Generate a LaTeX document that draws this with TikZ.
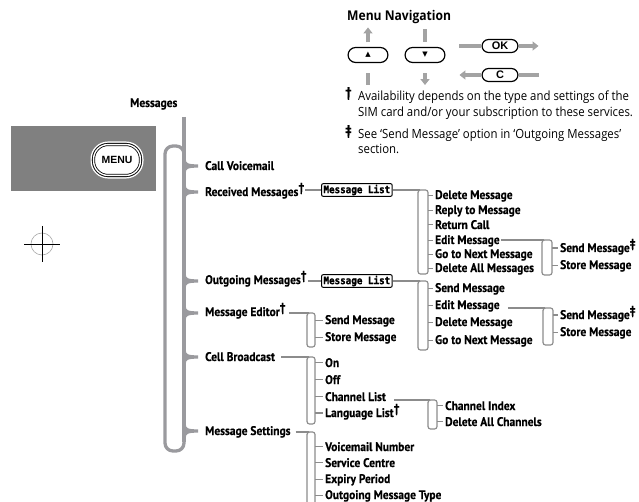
\documentclass[tikz,border=0pt]{standalone}
\usepackage{fontspec}
\setmainfont{Open Sans}
\newfontfamily\lblfont[FakeStretch=0.92,FakeBold=0.4]{PT Sans}
\newfontfamily\notefont[FakeStretch=0.9]{Open Sans}
\newfontfamily\lcdfont[FakeStretch=0.9,FakeBold=1.6]{DejaVu Sans Mono}
\newfontfamily\symfont{DejaVu Sans}
\newfontfamily\btnfont{Liberation Sans}
\usetikzlibrary{arrows.meta}
\definecolor{bgray}{HTML}{9A9A9E}
\definecolor{lgray}{HTML}{8C8C8C}
\definecolor{boxgray}{HTML}{808080}
\definecolor{agray}{HTML}{A3A3A3}
\newcommand\mydag{\raisebox{4.5pt}{†}}
\newcommand\myddag{\raisebox{4.5pt}{‡}}
\begin{document}
\begin{tikzpicture}[x=1bp,y=-1bp,
  lbl/.style={font=\lblfont\bfseries\fontsize{12.5}{14}\selectfont, anchor=base west, inner sep=0pt},
  note/.style={font=\notefont\fontsize{12.7}{14}\selectfont, anchor=base west, inner sep=0pt},
  lcd/.style={draw=black, line width=1pt, rounded corners=2, anchor=west, minimum width=71, minimum height=13, inner sep=1pt, font=\lcdfont\bfseries\fontsize{10.3}{11}\selectfont},
  gline/.style={draw=lgray, line width=1.2pt},
  brk/.style={draw=lgray, line width=1.2pt, rounded corners=2.5},
  brace/.style={draw=bgray, line width=3.3pt},
  btn/.style={draw=black, line width=1.2pt, inner sep=0pt},
  navbar/.style={draw=agray, line width=3.5pt},
  navar/.style={draw=agray, line width=3.5pt, -{Triangle[width=9pt,length=6pt]}},
]
\useasboundingbox (0,0) rectangle (639,502);

% ---------- MENU key and crosshair ----------
\fill[boxgray] (11,126) rectangle (156,191);
\node[draw=white, line width=1.2pt, rounded corners=17, minimum width=52, minimum height=36, inner sep=0pt] (menuring) at (117,160) {};
\node[draw=black, double=white, double distance=1.4pt, line width=0.8pt, fill=white, rounded corners=14.5, minimum width=47, minimum height=31, inner sep=0pt, font=\btnfont\bfseries\fontsize{10.5}{11}\selectfont] (menu) at (117,160) {MENU};
\draw[gray!70, line width=0.6pt] (42,244) circle (11);
\coordinate (chl) at (24,244); \coordinate (chr) at (60,244);
\coordinate (cht) at (42,226); \coordinate (chb) at (42,262);
\draw[black, line width=0.6pt] (chl) -- (chr) (cht) -- (chb);

% ---------- Menu navigation ----------
\node[font=\notefont\bfseries\fontsize{13.5}{15}\selectfont, anchor=base west, inner sep=0pt] (navt) at (347,21) {Menu Navigation};
\node[btn, rounded corners=7.5, minimum width=40, minimum height=15, font=\symfont\fontsize{7}{7}\selectfont] (up) at (368,55) {▲};
\node[btn, rounded corners=7.5, minimum width=40, minimum height=15, font=\symfont\fontsize{7}{7}\selectfont] (dn) at (425,55) {▼};
\node[btn, rounded corners=6.5, minimum width=36, minimum height=13, font=\btnfont\bfseries\fontsize{11}{11}\selectfont] (ok) at (500,46) {OK};
\node[btn, rounded corners=6.5, minimum width=36, minimum height=13, font=\btnfont\bfseries\fontsize{11}{11}\selectfont] (cc) at (500,75) {C};
\draw[navar] ([yshift=4.5pt]up.north) -- ++(0,-15);
\draw[navbar] ([yshift=-10pt]up.south) -- ++(0,12);
\draw[navbar] ([yshift=5pt]dn.north) -- ++(0,-13);
\draw[navar] ([yshift=-10pt]dn.south) -- ++(0,12);
\draw[navbar] (ok.west) -- ++(-22,0);
\draw[navar] (ok.east) -- ++(20,0);
\draw[navar] (cc.west) -- ++(-22,0);
\draw[navbar] (cc.east) -- ++(20,0);

% ---------- footnotes ----------
\node[lbl, font=\lblfont\bfseries\fontsize{14}{15}\selectfont] (fd1) at (345,97) {†};
\node[note] (fn1) at (358,101) {Availability depends on the type and settings of the};
\node[note] (fn2) at (358,117) {SIM card and/or your subscription to these services.};
\node[lbl, font=\lblfont\bfseries\fontsize{14}{15}\selectfont] (fd2) at (345,135) {‡};
\node[note] (fn3) at (358,139) {See ‘Send Message’ option in ‘Outgoing Messages’};
\node[note] (fn4) at (358,154) {section.};

% ---------- main list ----------
\node[lbl] (msgs) at (130,107) {Messages};
\node[lbl] (cv) at (205,170) {Call Voicemail};
\node[lbl] (rm) at (205,196) {Received Messages\mydag};
\node[lbl] (om) at (205,284) {Outgoing Messages\mydag};
\node[lbl] (me) at (205,316) {Message Editor\mydag};
\node[lbl] (cb) at (205,361) {Cell Broadcast};
\node[lbl] (ms) at (205,435) {Message Settings};

% main brace and loop
\coordinate (btop) at (184,117);
\coordinate (bbot) at (184,442);
\draw[brace] (btop) -- (bbot);
\foreach \t in {166,192,281,313,357,431}
  \draw[brace] (184,\t-7) .. controls (184,\t-1) and (188,\t) .. (198,\t) .. controls (188,\t) and (184,\t+1) .. (184,\t+7);
\draw[brace, rounded corners=8] (bbot) -- (184,451) -- (165,451) -- (165,146) -- (184,146) -- (184,156);

% ---------- Received Messages ----------
\node[lcd] (ml1) at (321,190) {Message List};
\draw[gline] ([xshift=1pt]rm.east |- ml1.west) -- (ml1.west);
\draw[brk] (418,190) rectangle (428,274);
\coordinate (r1) at (428,190);
\draw[gline] (ml1.east) -- (420,190);
\node[lbl] (r1a) at (435,199) {Delete Message};
\node[lbl] (r1b) at (435,214) {Reply to Message};
\node[lbl] (r1c) at (435,229) {Return Call};
\node[lbl] (r1d) at (435,244) {Edit Message};
\node[lbl] (r1e) at (435,258) {Go to Next Message};
\node[lbl] (r1f) at (435,272) {Delete All Messages};
\foreach \n in {r1a,r1b,r1c,r1d,r1e,r1f}
  \draw[gline] (\n.west -| r1) -- ([xshift=-2pt]\n.west);
% edit sub
\draw[brk] (542,240) rectangle (552,275);
\coordinate (r2) at (552,240);
\draw[gline] ([xshift=1pt]r1d.east |- 0,240) -- (544,240);
\node[lbl] (r2a) at (560,252) {Send Message\myddag};
\node[lbl] (r2b) at (560,269) {Store Message};
\draw[gline] (r2 |- 0,248) -- ([xshift=-2pt]r2a.west |- 0,248);
\draw[gline] (r2b.west -| r2) -- ([xshift=-2pt]r2b.west);

% ---------- Outgoing Messages ----------
\node[lcd] (ml2) at (321,281) {Message List};
\draw[gline] ([xshift=1pt]om.east |- ml2.west) -- (ml2.west);
\draw[brk] (418,281) rectangle (428,350);
\coordinate (o1) at (428,281);
\draw[gline] (ml2.east) -- (420,281);
\node[lbl] (o1a) at (435,292) {Send Message};
\node[lbl] (o1b) at (435,309) {Edit Message};
\node[lbl] (o1c) at (435,326) {Delete Message};
\node[lbl] (o1d) at (435,344) {Go to Next Message};
\foreach \n in {o1a,o1b,o1c,o1d}
  \draw[gline] (\n.west -| o1) -- ([xshift=-2pt]\n.west);
\draw[brk] (543,308) rectangle (553,345);
\coordinate (o2) at (553,308);
\draw[gline] ([xshift=8pt]o1b.east |- 0,308) -- (545,308);
\node[lbl] (o2a) at (560,319) {Send Message\myddag};
\node[lbl] (o2b) at (560,336) {Store Message};
\draw[gline] (o2 |- 0,315) -- ([xshift=-2pt]o2a.west |- 0,315);
\draw[gline] (o2b.west -| o2) -- ([xshift=-2pt]o2b.west);

% ---------- Message Editor ----------
\draw[brk] (307,313) rectangle (315,347);
\coordinate (e1) at (315,313);
\draw[gline] ([xshift=3pt]me.east |- 0,313) -- (309,313);
\node[lbl] (e1a) at (325,324) {Send Message};
\node[lbl] (e1b) at (325,341) {Store Message};
\foreach \n in {e1a,e1b}
  \draw[gline] (\n.west -| e1) -- ([xshift=-2pt]\n.west);

% ---------- Cell Broadcast ----------
\draw[brk] (307,357) rectangle (315,424);
\coordinate (c1) at (315,357);
\draw[gline] ([xshift=6pt]cb.east |- 0,357) -- (309,357);
\node[lbl] (c1a) at (325,367) {On};
\node[lbl] (c1b) at (325,384) {Off};
\node[lbl] (c1c) at (325,401) {Channel List};
\node[lbl] (c1d) at (325,417) {Language List\mydag};
\draw[gline] (c1a.west -| c1) -- ([xshift=-2pt]c1a.west);
\draw[gline] (c1b.west -| c1) -- ([xshift=-2pt]c1b.west);
\draw[gline] (c1c.west -| c1) -- ([xshift=-2pt]c1c.west);
\draw[gline] (c1 |- 0,413) -- ([xshift=-2pt]c1d.west |- 0,413);
\draw[brk] (428,400) rectangle (437,429);
\coordinate (c2) at (437,400);
\draw[gline] ([xshift=8pt]c1c.east |- 0,400) -- (430,400);
\node[lbl] (c2a) at (445,410) {Channel Index};
\node[lbl] (c2b) at (445,426) {Delete All Channels};
\foreach \n in {c2a,c2b}
  \draw[gline] (\n.west -| c2) -- ([xshift=-2pt]\n.west);

% ---------- Message Settings ----------
\draw[brk] (307,432) rectangle (315,515);
\coordinate (s1) at (315,432);
\draw[gline] ([xshift=5pt]ms.east |- 0,432) -- (309,432);
\node[lbl] (s1a) at (325,451) {Voicemail Number};
\node[lbl] (s1b) at (325,467) {Service Centre};
\node[lbl] (s1c) at (325,483) {Expiry Period};
\node[lbl] (s1d) at (325,499) {Outgoing Message Type};
\foreach \n in {s1a,s1b,s1c,s1d}
  \draw[gline] (\n.west -| s1) -- ([xshift=-2pt]\n.west);
\end{tikzpicture}
\end{document}
